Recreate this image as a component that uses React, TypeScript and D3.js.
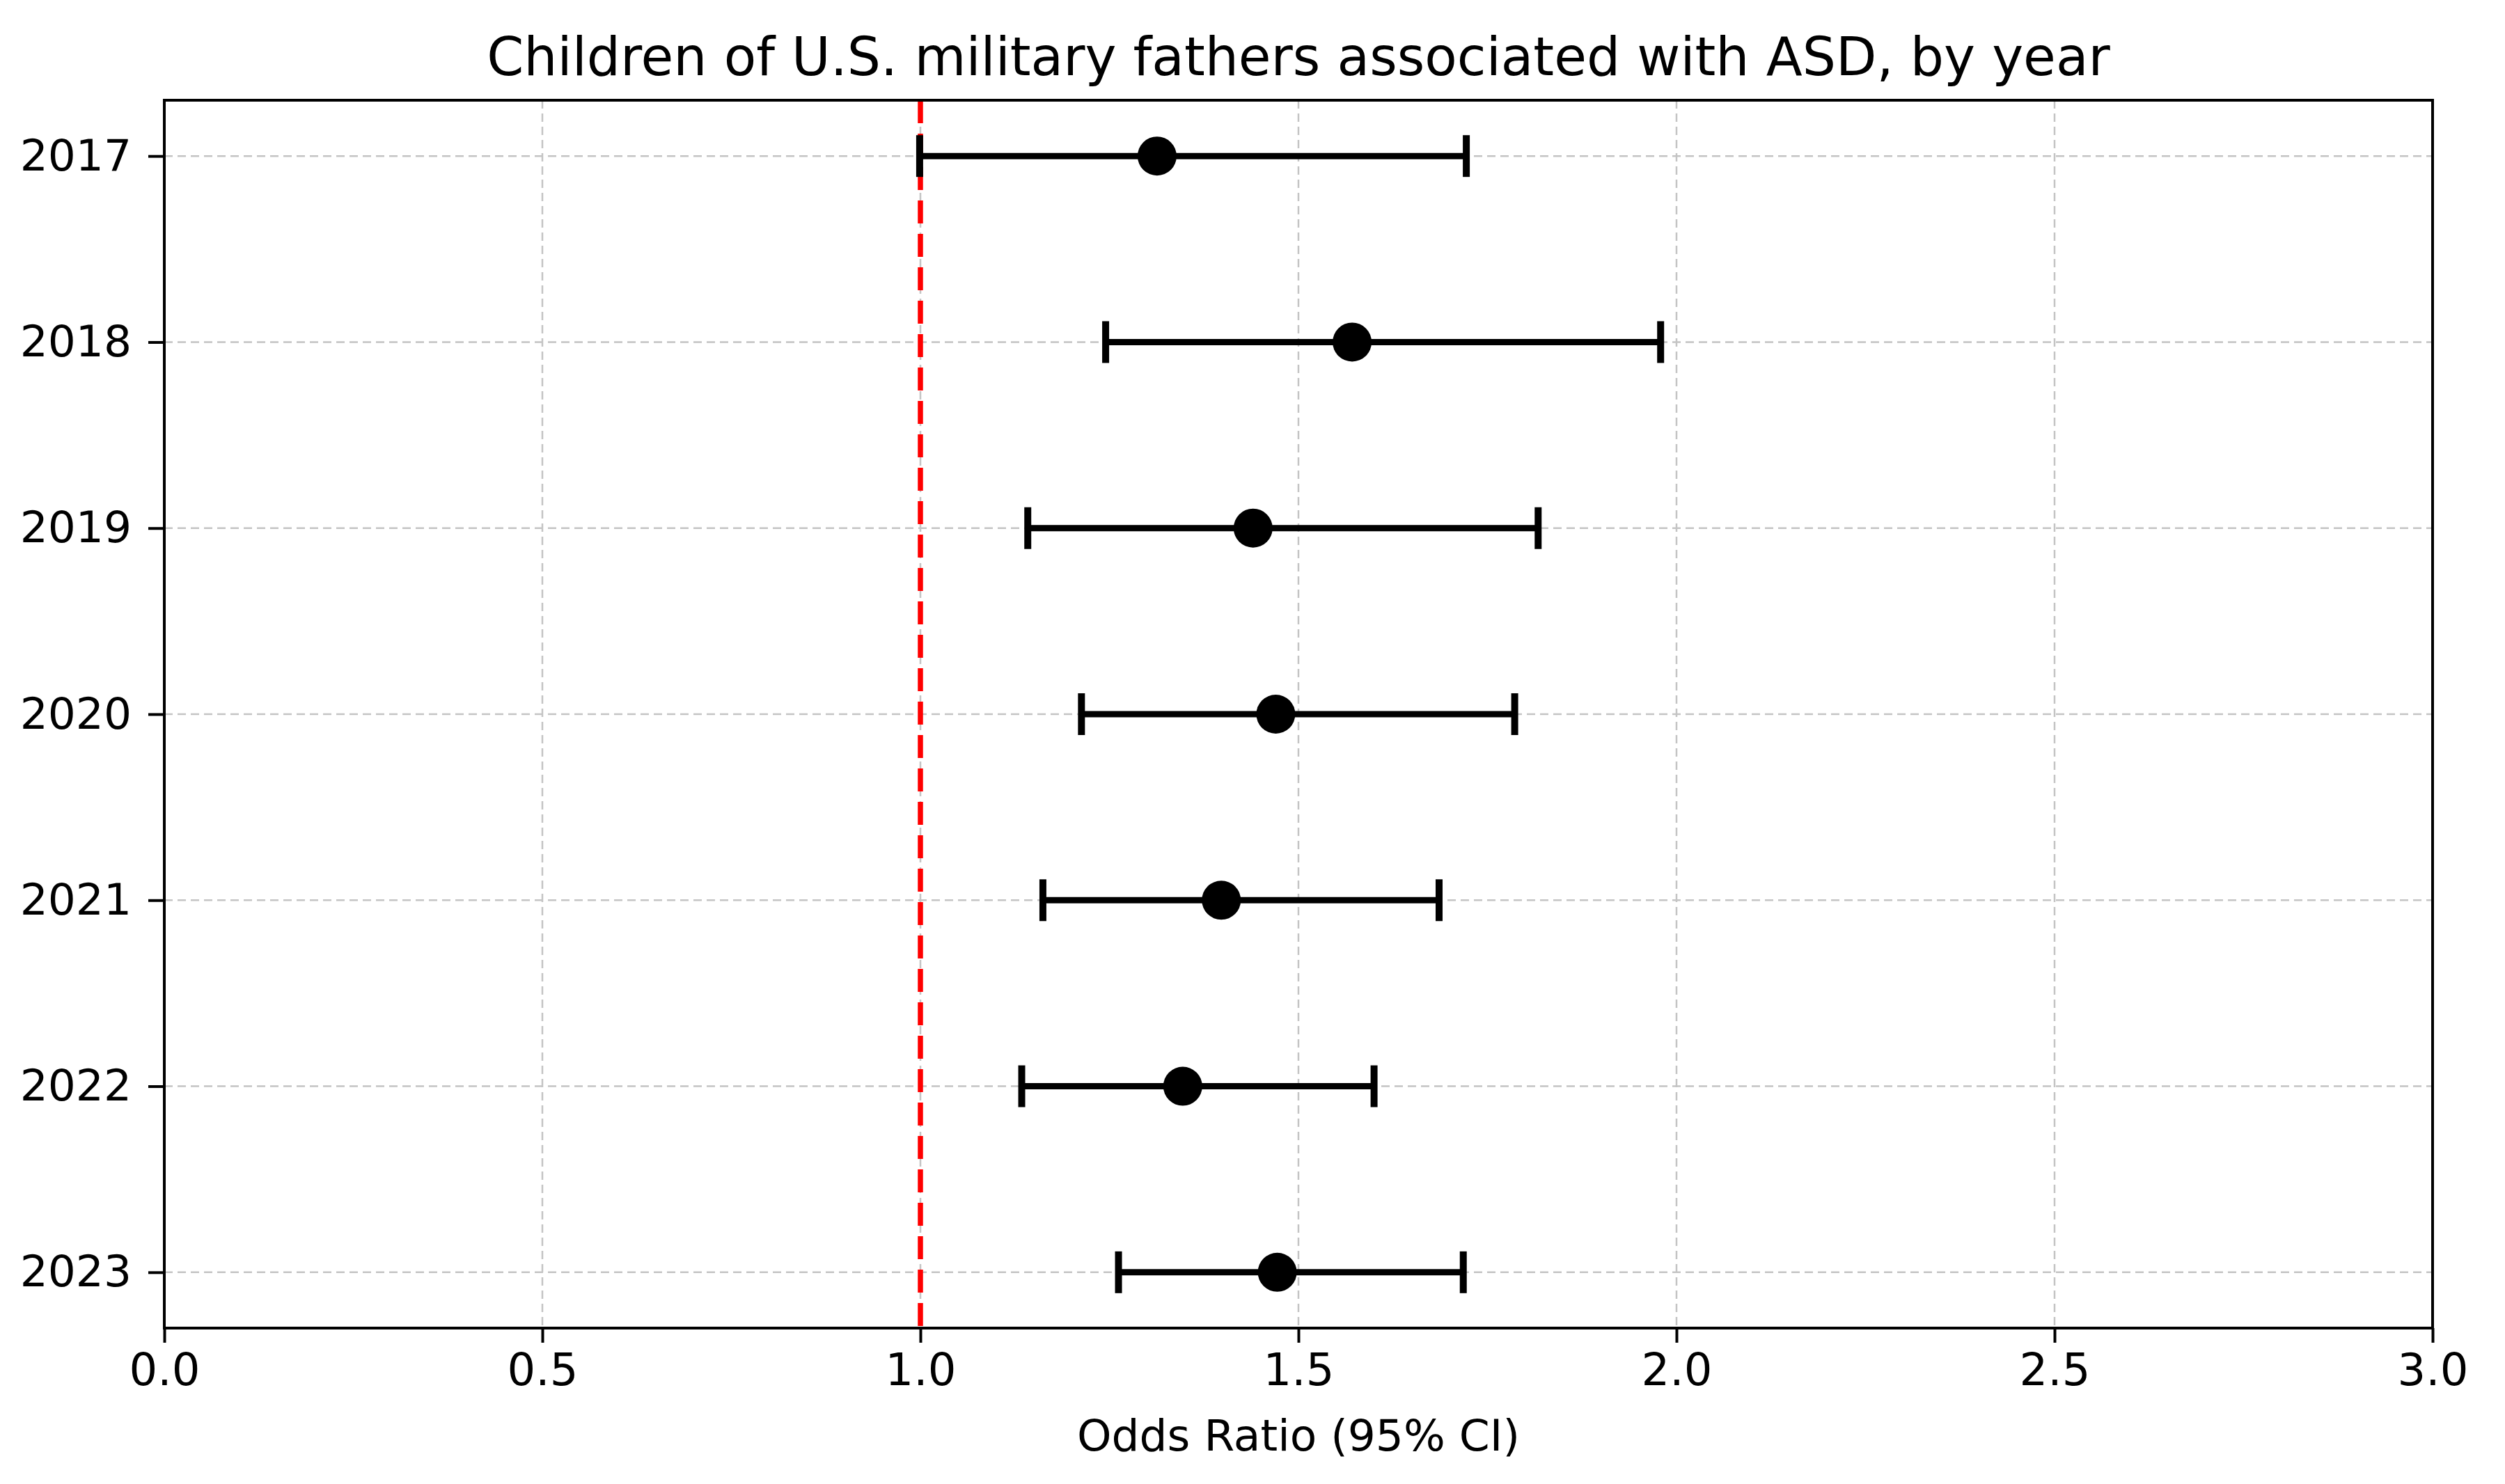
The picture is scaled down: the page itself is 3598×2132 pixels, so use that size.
// @ts-nocheck
import React, { useEffect, useRef } from 'react';
import * as d3 from 'd3';

// data
const years = ['2017', '2018', '2019', '2020', '2021', '2022', '2023'];
const oddsRatio = [1.313, 1.571, 1.44, 1.47, 1.398, 1.347, 1.472];
const ciLower = [0.999, 1.245, 1.142, 1.213, 1.162, 1.134, 1.262];
const ciUpper = [1.722, 1.979, 1.817, 1.786, 1.686, 1.6, 1.718];
const xTicks = [0, 0.5, 1, 1.5, 2, 2.5, 3];
const refLine = 1.0;

const W = 3598;
const H = 2132;
const FONT = 'DejaVu Sans, sans-serif';

const App: React.FC = () => {
  const ref = useRef<SVGSVGElement | null>(null);

  useEffect(() => {
    document.body.style.margin = '0';
    const svg = d3.select(ref.current);
    svg.selectAll('*').remove();

    const margin = { top: 144, right: W - 3494, bottom: H - 1908, left: 236 };
    const width = W - margin.left - margin.right;
    const height = H - margin.top - margin.bottom;

    const x = d3.scaleLinear().domain([0, 3]).range([0, width]);
    // categorical positions, 2017 at top, matplotlib-style margins
    const y = d3.scaleLinear().domain([-0.3, years.length - 1 + 0.3]).range([0, height]);

    svg.append('rect').attr('width', W).attr('height', H).attr('fill', 'white');

    const g = svg.append('g').attr('transform', `translate(${margin.left},${margin.top})`);

    // grid
    g.append('g')
      .selectAll('line')
      .data(xTicks)
      .enter()
      .append('line')
      .attr('x1', (d) => x(d))
      .attr('x2', (d) => x(d))
      .attr('y1', 0)
      .attr('y2', height)
      .attr('stroke', '#c4c4c4')
      .attr('stroke-width', 2.5)
      .attr('stroke-dasharray', '12,7');

    g.append('g')
      .selectAll('line')
      .data(years)
      .enter()
      .append('line')
      .attr('x1', 0)
      .attr('x2', width)
      .attr('y1', (d, i) => y(i))
      .attr('y2', (d, i) => y(i))
      .attr('stroke', '#c4c4c4')
      .attr('stroke-width', 2.5)
      .attr('stroke-dasharray', '12,7');

    // reference line at OR = 1
    g.append('line')
      .attr('x1', x(refLine))
      .attr('x2', x(refLine))
      .attr('y1', 0)
      .attr('y2', height)
      .attr('stroke', '#ff0000')
      .attr('stroke-width', 7.5)
      .attr('stroke-dasharray', '33,15');

    // error bars
    const cap = 30;
    const bars = g.append('g');
    years.forEach((yr, i) => {
      const cy = y(i);
      bars.append('line')
        .attr('x1', x(ciLower[i])).attr('x2', x(ciUpper[i]))
        .attr('y1', cy).attr('y2', cy)
        .attr('stroke', 'black').attr('stroke-width', 9);
      [ciLower[i], ciUpper[i]].forEach((v) => {
        bars.append('line')
          .attr('x1', x(v)).attr('x2', x(v))
          .attr('y1', cy - cap).attr('y2', cy + cap)
          .attr('stroke', 'black').attr('stroke-width', 10);
      });
      bars.append('circle')
        .attr('cx', x(oddsRatio[i]))
        .attr('cy', cy)
        .attr('r', 28)
        .attr('fill', 'black');
    });

    // axes
    const xAxis = g.append('g')
      .attr('transform', `translate(0,${height})`)
      .call(d3.axisBottom(x).tickValues(xTicks).tickFormat(d3.format('.1f')).tickSize(21).tickPadding(16));
    xAxis.select('.domain').remove();
    xAxis.selectAll('line').attr('stroke', 'black').attr('stroke-width', 4);
    xAxis.selectAll('text').attr('font-family', FONT).attr('font-size', 64).attr('fill', 'black');

    const yAxis = g.append('g')
      .call(d3.axisLeft(y).tickValues(d3.range(years.length)).tickFormat((d) => years[d]).tickSize(23).tickPadding(24));
    yAxis.select('.domain').remove();
    yAxis.selectAll('line').attr('stroke', 'black').attr('stroke-width', 4);
    yAxis.selectAll('text').attr('font-family', FONT).attr('font-size', 63).attr('fill', 'black');

    // frame
    g.append('rect')
      .attr('width', width)
      .attr('height', height)
      .attr('fill', 'none')
      .attr('stroke', 'black')
      .attr('stroke-width', 4);

    // title and label
    svg.append('text')
      .attr('x', margin.left + width / 2)
      .attr('y', 108)
      .attr('text-anchor', 'middle')
      .attr('font-family', FONT)
      .attr('font-size', 76)
      .attr('fill', 'black')
      .text('Children of U.S. military fathers associated with ASD, by year');

    svg.append('text')
      .attr('x', margin.left + width / 2)
      .attr('y', 2084)
      .attr('text-anchor', 'middle')
      .attr('font-family', FONT)
      .attr('font-size', 63)
      .attr('fill', 'black')
      .text('Odds Ratio (95% CI)');
  }, []);

  return <svg ref={ref} width={W} height={H} style={{ display: 'block' }}></svg>;
};

export default App;
